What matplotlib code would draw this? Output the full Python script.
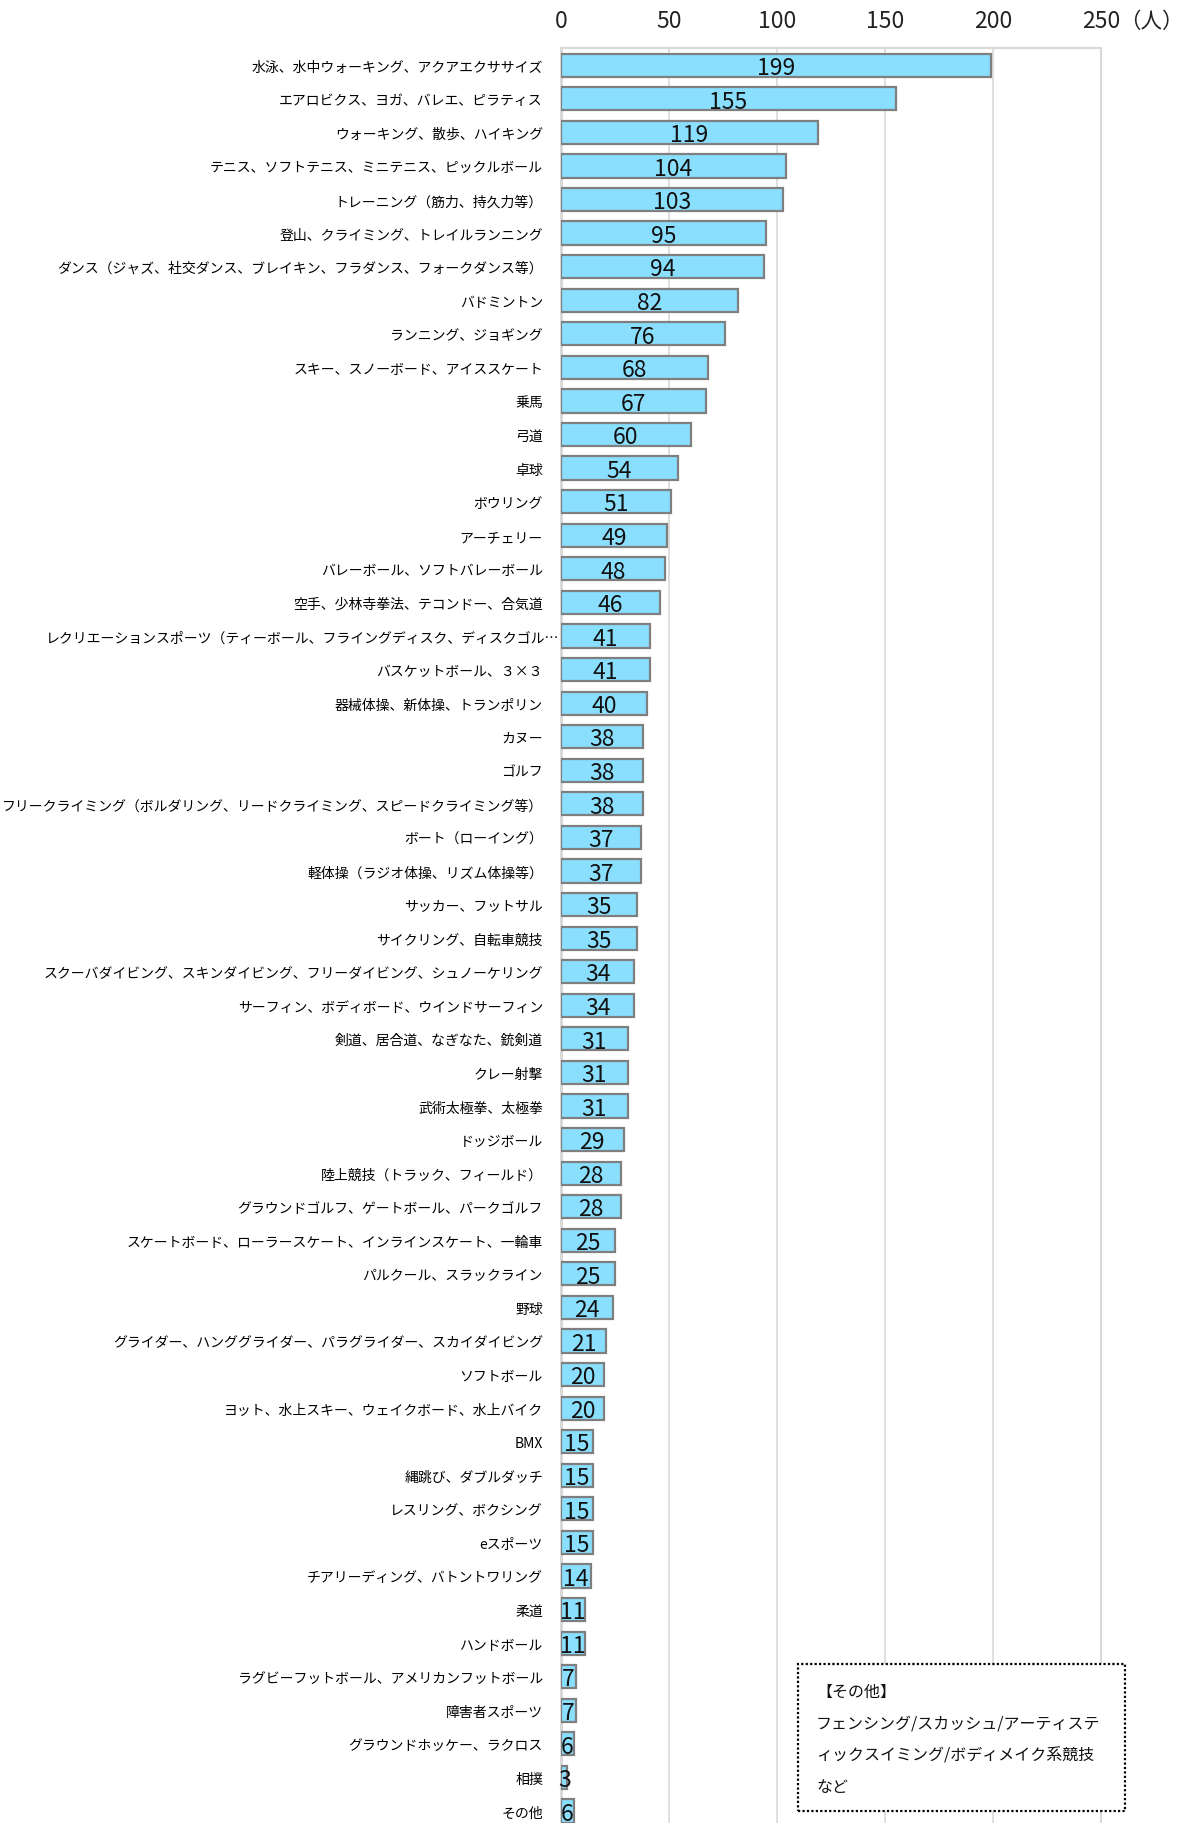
import matplotlib
matplotlib.use('Agg')
import matplotlib.pyplot as plt
from matplotlib.patches import Rectangle
from matplotlib.transforms import ScaledTranslation

plt.rcParams['font.family'] = ['Noto Sans CJK JP', 'DejaVu Sans']

# datos del gráfico (orden de arriba a abajo)
categorias = [
    '水泳、水中ウォーキング、アクアエクササイズ',
    'エアロビクス、ヨガ、バレエ、ピラティス',
    'ウォーキング、散歩、ハイキング',
    'テニス、ソフトテニス、ミニテニス、ピックルボール',
    'トレーニング（筋力、持久力等）',
    '登山、クライミング、トレイルランニング',
    'ダンス（ジャズ、社交ダンス、ブレイキン、フラダンス、フォークダンス等）',
    'バドミントン',
    'ランニング、ジョギング',
    'スキー、スノーボード、アイススケート',
    '乗馬',
    '弓道',
    '卓球',
    'ボウリング',
    'アーチェリー',
    'バレーボール、ソフトバレーボール',
    '空手、少林寺拳法、テコンドー、合気道',
    'レクリエーションスポーツ（ティーボール、フライングディスク、ディスクゴル…',
    'バスケットボール、３×３',
    '器械体操、新体操、トランポリン',
    'カヌー',
    'ゴルフ',
    'フリークライミング（ボルダリング、リードクライミング、スピードクライミング等）',
    'ボート（ローイング）',
    '軽体操（ラジオ体操、リズム体操等）',
    'サッカー、フットサル',
    'サイクリング、自転車競技',
    'スクーバダイビング、スキンダイビング、フリーダイビング、シュノーケリング',
    'サーフィン、ボディボード、ウインドサーフィン',
    '剣道、居合道、なぎなた、銃剣道',
    'クレー射撃',
    '武術太極拳、太極拳',
    'ドッジボール',
    '陸上競技（トラック、フィールド）',
    'グラウンドゴルフ、ゲートボール、パークゴルフ',
    'スケートボード、ローラースケート、インラインスケート、一輪車',
    'パルクール、スラックライン',
    '野球',
    'グライダー、ハンググライダー、パラグライダー、スカイダイビング',
    'ソフトボール',
    'ヨット、水上スキー、ウェイクボード、水上バイク',
    'BMX',
    '縄跳び、ダブルダッチ',
    'レスリング、ボクシング',
    'eスポーツ',
    'チアリーディング、バトントワリング',
    '柔道',
    'ハンドボール',
    'ラグビーフットボール、アメリカンフットボール',
    '障害者スポーツ',
    'グラウンドホッケー、ラクロス',
    '相撲',
    'その他',
]
personas = [199, 155, 119, 104, 103, 95, 94, 82, 76, 68, 67, 60, 54, 51, 49, 48, 46,
            41, 41, 40, 38, 38, 38, 37, 37, 35, 35, 34, 34, 31, 31, 31, 29, 28, 28,
            25, 25, 24, 21, 20, 20, 15, 15, 15, 15, 14, 11, 11, 7, 7, 6, 3, 6]
ticks_x = [0, 50, 100, 150, 200, 250]

nota = ['【その他】',
        'フェンシング/スカッシュ/アーティステ',
        'ィックスイミング/ボディメイク系競技',
        'など']

fig = plt.figure(figsize=(11.84, 18.24), dpi=100)
ax = fig.add_axes([0.4738, -0.0026, 0.4561, 0.9755])

posiciones = list(range(len(categorias)))
barras = ax.barh(posiciones, personas, height=0.69, color='#8ADFFF',
                 edgecolor='#7F7F7F', linewidth=1.6, zorder=3)
valores = ax.bar_label(barras, labels=[str(v) for v in personas], label_type='center',
                       fontsize=16.5, color='#111111', zorder=4)
# bajar un poco los números para centrarlos en la barra
for v in valores:
    v.xyann = (0, -1.6)

ax.set_xlim(0, 250)
ax.set_ylim(len(categorias) - 0.5, -0.5)
ax.set_yticks(posiciones)
ax.set_yticklabels(categorias, fontsize=10, color='#000000')
ax.set_xticks(ticks_x)
ax.set_xticklabels([str(t) for t in ticks_x], fontsize=16.5, color='#222222')
ax.xaxis.tick_top()
ax.tick_params(axis='both', length=0)
ax.tick_params(axis='y', pad=13)
ax.tick_params(axis='x', pad=12)

# la etiqueta truncada llega hasta el eje, como en Excel
etiqueta = ax.get_yticklabels()[17]
etiqueta.set_transform(etiqueta.get_transform() +
                       ScaledTranslation(12 / 72, 0, fig.dpi_scale_trans))

ax.grid(True, axis='x', color='#D9D9D9', linewidth=1.2, zorder=0)
ax.set_axisbelow(True)
for lado in ['top', 'right', 'left']:
    ax.spines[lado].set_color('#D9D9D9')
    ax.spines[lado].set_linewidth(1.5)
ax.spines['left'].set_linewidth(2.2)
ax.spines['bottom'].set_visible(False)

fig.text(1119 / 1184, 1 - 22 / 1824, '（人）', fontsize=15.5, color='#222222',
         ha='left', va='center')

# recuadro de la nota
caja = Rectangle((798 / 1184, 1 - 1812 / 1824), 327 / 1184, 147 / 1824,
                 transform=fig.transFigure, facecolor='white', edgecolor='black',
                 linewidth=1.6, linestyle=(0, (1, 1)), zorder=5)
fig.add_artist(caja)
for i, linea in enumerate(nota):
    fig.text(816 / 1184, 1 - (1692 + 32 * i) / 1824, linea, fontsize=11.5,
             color='#111111', ha='left', va='center', zorder=6)

plt.savefig('out.png', dpi=100)
